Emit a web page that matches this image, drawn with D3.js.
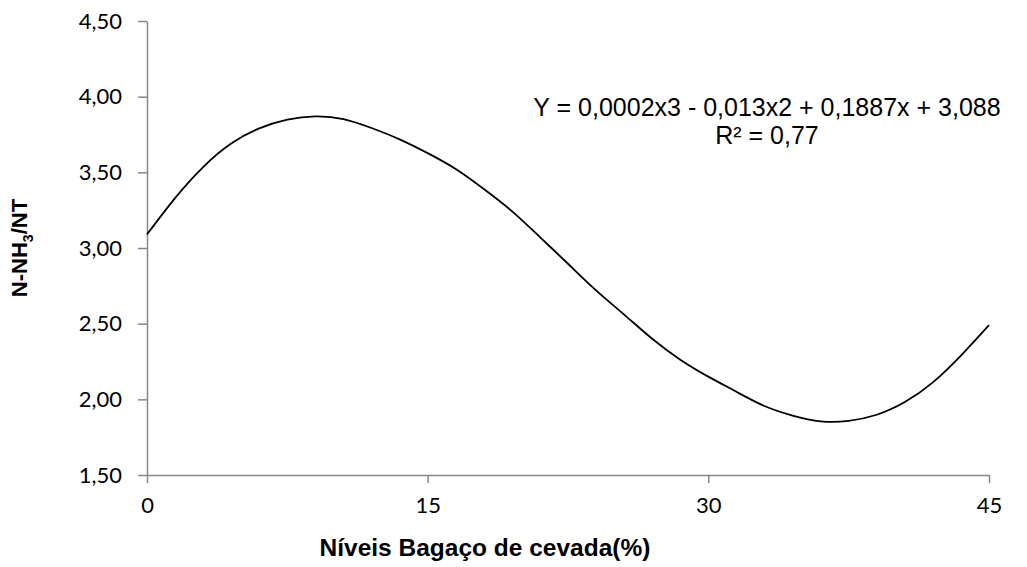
<!DOCTYPE html>
<html>
<head>
<meta charset="utf-8">
<script src="https://cdn.jsdelivr.net/npm/d3@7"></script>
<style>
  body { margin: 0; background: #fff; }
  svg { display: block; font-family: "Liberation Sans", Arial, sans-serif; }
</style>
</head>
<body>
<svg id="chart" width="1027" height="567"></svg>
<script>
// levels of barley bagasse (%) and the fitted curve
const levels = [0, 1.5, 3, 4.5, 6, 7.5, 9, 10.5, 12, 13.5, 15, 16.5, 18, 19.5, 21, 22.5,
                24, 25.5, 27, 28.5, 30, 31.5, 33, 34.5, 36, 37.5, 39, 40.5, 42, 43.5, 45];
const ratio = [3.09, 3.33, 3.535, 3.69, 3.79, 3.848, 3.87, 3.852, 3.793, 3.718, 3.627, 3.522,
               3.39, 3.244, 3.072, 2.896, 2.72, 2.56, 2.40, 2.262, 2.150, 2.05, 1.956, 1.893,
               1.855, 1.858, 1.898, 1.982, 2.112, 2.289, 2.49];
const xTicks = [0, 15, 30, 45];
const yTicks = [1.5, 2.0, 2.5, 3.0, 3.5, 4.0, 4.5];
const equation = "Y = 0,0002x3 - 0,013x2 + 0,1887x + 3,088";
const rSquared = "R² = 0,77";

const svg = d3.select("#chart");
const margin = { left: 147, right: 38, top: 21, bottom: 92 };
const width = 1027 - margin.left - margin.right;
const height = 567 - margin.top - margin.bottom;

const g = svg.append("g").attr("transform", `translate(${margin.left},${margin.top})`);

const x = d3.scaleLinear().domain([0, 45]).range([0, width]);
const y = d3.scaleLinear().domain([1.5, 4.5]).range([height, 0]);

const br = d3.formatLocale({ decimal: ",", thousands: ".", grouping: [3], currency: ["", ""] });

function styleAxis(sel) {
    sel.select(".domain").attr("stroke", "#888").attr("stroke-width", 1.5);
    sel.selectAll(".tick line").attr("stroke", "#888").attr("stroke-width", 1.5);
    sel.selectAll("text")
        .attr("fill", "#000")
        .attr("font-size", "22px")
        .attr("font-family", "Lato, 'Open Sans', sans-serif");
}

g.append("g")
    .attr("transform", `translate(0,${height})`)
    .call(d3.axisBottom(x).tickValues(xTicks).tickSize(8).tickSizeOuter(0).tickPadding(14))
    .call(styleAxis);

g.append("g")
    .call(d3.axisLeft(y).tickValues(yTicks).tickSize(9).tickSizeOuter(0).tickPadding(16)
        .tickFormat(br.format(".2f")))
    .call(styleAxis);

const line = d3.line()
    .x((d, i) => x(levels[i]))
    .y(d => y(d))
    .curve(d3.curveNatural);

g.append("path")
    .datum(ratio)
    .attr("fill", "none")
    .attr("stroke", "#000")
    .attr("stroke-width", 1.8)
    .attr("d", line);

// equation label
svg.append("text")
    .attr("x", 767).attr("y", 116)
    .attr("text-anchor", "middle")
    .attr("font-size", "25px")
    .text(equation);
svg.append("text")
    .attr("x", 767).attr("y", 144)
    .attr("text-anchor", "middle")
    .attr("font-size", "25px")
    .text(rSquared);

// axis titles
svg.append("text")
    .attr("x", 485).attr("y", 556)
    .attr("text-anchor", "middle")
    .attr("font-size", "24.5px")
    .attr("font-weight", "bold")
    .text("Níveis Bagaço de cevada(%)");

const yt = svg.append("text")
    .attr("transform", "translate(27,248) rotate(-90)")
    .attr("text-anchor", "middle")
    .attr("font-size", "22px")
    .attr("font-weight", "bold");
yt.append("tspan").text("N-NH");
yt.append("tspan").attr("font-size", "14px").attr("dy", 6).text("3");
yt.append("tspan").attr("dy", -6).text("/NT");
</script>
</body>
</html>
